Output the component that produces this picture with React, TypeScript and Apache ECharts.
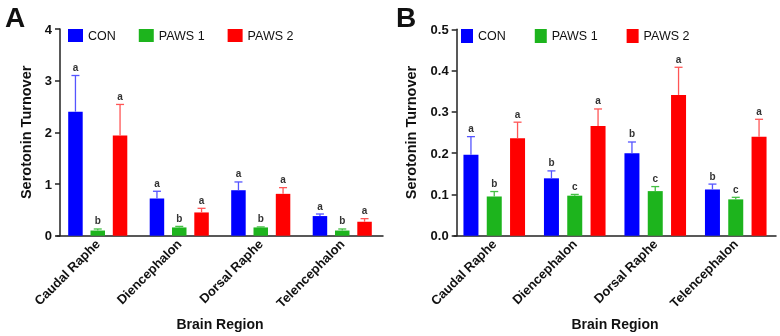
import React, { useEffect, useRef } from "react";
import * as echarts from "echarts";

const CATEGORIES = ["Caudal Raphe", "Diencephalon", "Dorsal Raphe", "Telencephalon"];
const GROUPS = ["CON", "PAWS 1", "PAWS 2"];

// Panel A: means and upper error-bar ends
const A_CON = [2.4, 0.72, 0.88, 0.38];
const A_CON_UP = [3.1, 0.86, 1.04, 0.42];
const A_P1 = [0.1, 0.16, 0.16, 0.1];
const A_P1_UP = [0.13, 0.18, 0.17, 0.13];
const A_P2 = [1.94, 0.45, 0.81, 0.27];
const A_P2_UP = [2.54, 0.53, 0.93, 0.33];
const A_CON_LET = ["a", "a", "a", "a"];
const A_P1_LET = ["b", "b", "b", "b"];
const A_P2_LET = ["a", "a", "a", "a"];
const A_TICKS = [0, 1, 2, 3, 4];

// Panel B
const B_CON = [0.196, 0.139, 0.2, 0.112];
const B_CON_UP = [0.24, 0.157, 0.227, 0.125];
const B_P1 = [0.095, 0.097, 0.108, 0.088];
const B_P1_UP = [0.107, 0.1, 0.119, 0.093];
const B_P2 = [0.236, 0.266, 0.341, 0.24];
const B_P2_UP = [0.275, 0.307, 0.408, 0.282];
const B_CON_LET = ["a", "b", "b", "b"];
const B_P1_LET = ["b", "c", "c", "c"];
const B_P2_LET = ["a", "a", "a", "a"];
const B_TICKS = [0, 0.1, 0.2, 0.3, 0.4, 0.5];

const COLORS = ["#0000FF", "#1DB41D", "#FF0000"];
const ERR_COLORS = ["#5555FF", "#44C044", "#FF5555"];
const FONT = "Liberation Sans, Arial, Helvetica, sans-serif";

export default function App() {
  const ref = useRef<HTMLDivElement>(null);
  useEffect(() => {
    if (!ref.current) return;
    const chart = echarts.init(ref.current, undefined, { renderer: "svg" });

    const barSeries = (name: string, gi: number, xi: number, data: number[], bw: number, gap: number) => ({
      type: "bar",
      name,
      xAxisIndex: xi,
      yAxisIndex: xi,
      data,
      barWidth: bw,
      barGap: (gap / bw) * 100 + "%",
      itemStyle: { color: COLORS[gi] },
      z: 2,
    });

    const errSeries = (
      gi: number,
      xi: number,
      means: number[],
      ups: number[],
      letters: string[],
      bw: number,
      gap: number
    ) => ({
      type: "custom",
      name: GROUPS[gi] + " err",
      xAxisIndex: xi,
      yAxisIndex: xi,
      z: 3,
      data: CATEGORIES.map((c, k) => [k, means[k], ups[k]]),
      encode: { x: 0, y: [1, 2] },
      renderItem: (params: any, api: any) => {
        const k = api.value(0);
        const p0 = api.coord([k, api.value(1)]);
        const p1 = api.coord([k, api.value(2)]);
        const x = p0[0] + (gi - 1) * (bw + gap);
        const color = ERR_COLORS[gi];
        return {
          type: "group",
          children: [
            { type: "line", shape: { x1: x, y1: p0[1], x2: x, y2: p1[1] }, style: { stroke: color, lineWidth: 1.3 } },
            { type: "line", shape: { x1: x - 4, y1: p1[1], x2: x + 4, y2: p1[1] }, style: { stroke: color, lineWidth: 1.3 } },
            {
              type: "text",
              x,
              y: p1[1] - 3,
              style: {
                text: letters[params.dataIndex],
                fill: "#333",
                font: "bold 10px " + FONT,
                align: "center",
                verticalAlign: "bottom",
              },
            },
          ],
        };
      },
    });

    const xAxis = (gi: number) => ({
      type: "category",
      gridIndex: gi,
      data: CATEGORIES,
      axisLine: { lineStyle: { color: "#222", width: 1.5 } },
      axisTick: { show: false },
      axisLabel: { rotate: 45, fontSize: 13, fontWeight: "bold", color: "#111", fontFamily: FONT, margin: 6 },
      name: "Brain Region",
      nameLocation: "middle",
      nameGap: 79,
      nameTextStyle: { fontSize: 14, fontWeight: "bold", color: "#111", fontFamily: FONT },
    });

    const yAxis = (gi: number, max: number, interval: number, dec: number, gap: number, offset: number) => ({
      type: "value",
      gridIndex: gi,
      min: 0,
      max,
      interval,
      offset,
      axisLine: { show: true, lineStyle: { color: "#222", width: 1.5 } },
      axisTick: { show: true, length: 5, lineStyle: { color: "#222", width: 1.5 } },
      splitLine: { show: false },
      axisLabel: {
        fontSize: 13,
        fontWeight: "bold",
        color: "#111",
        fontFamily: FONT,
        formatter: (v: number) => v.toFixed(dec),
      },
      name: "Serotonin Turnover",
      nameLocation: "middle",
      nameGap: gap,
      nameTextStyle: { fontSize: 14.5, fontWeight: "bold", color: "#111", fontFamily: FONT },
    });

    const legend = (left: number, iw: number, ih: number, gap: number) => ({
      data: GROUPS,
      left,
      top: 29,
      orient: "horizontal",
      icon: "rect",
      itemWidth: iw,
      itemHeight: ih,
      itemGap: gap,
      padding: 0,
      textStyle: { fontSize: 12.5, color: "#111", fontFamily: FONT },
    });

    const bwA = 14.5, gapA = 7.8, bwB = 15, gapB = 8.3;

    chart.setOption({
      animation: false,
      textStyle: { fontFamily: FONT },
      legend: [legend(68, 15, 13, 23), legend(461, 12, 14, 29)],
      grid: [
        { left: 57, top: 29, width: 326, bottom: 97.5 },
        { left: 454, top: 29.3, width: 322, bottom: 97 },
      ],
      xAxis: [xAxis(0), xAxis(1)],
      yAxis: [yAxis(0, A_TICKS[A_TICKS.length - 1], 1, 0, 27, -3), yAxis(1, B_TICKS[B_TICKS.length - 1], 0.1, 1, 38, -2.7)],
      graphic: [
        { type: "text", left: 5, top: 3, style: { text: "A", font: "bold 28px " + FONT, fill: "#111" } },
        { type: "text", left: 396, top: 3, style: { text: "B", font: "bold 28px " + FONT, fill: "#111" } },
      ],
      series: [
        barSeries("CON", 0, 0, A_CON, bwA, gapA),
        barSeries("PAWS 1", 1, 0, A_P1, bwA, gapA),
        barSeries("PAWS 2", 2, 0, A_P2, bwA, gapA),
        errSeries(0, 0, A_CON, A_CON_UP, A_CON_LET, bwA, gapA),
        errSeries(1, 0, A_P1, A_P1_UP, A_P1_LET, bwA, gapA),
        errSeries(2, 0, A_P2, A_P2_UP, A_P2_LET, bwA, gapA),
        barSeries("CON", 0, 1, B_CON, bwB, gapB),
        barSeries("PAWS 1", 1, 1, B_P1, bwB, gapB),
        barSeries("PAWS 2", 2, 1, B_P2, bwB, gapB),
        errSeries(0, 1, B_CON, B_CON_UP, B_CON_LET, bwB, gapB),
        errSeries(1, 1, B_P1, B_P1_UP, B_P1_LET, bwB, gapB),
        errSeries(2, 1, B_P2, B_P2_UP, B_P2_LET, bwB, gapB),
      ],
    });
    return () => chart.dispose();
  }, []);
  return <div ref={ref} style={{ position: "fixed", left: 0, top: 0, width: 780, height: 336 }} />;
}
